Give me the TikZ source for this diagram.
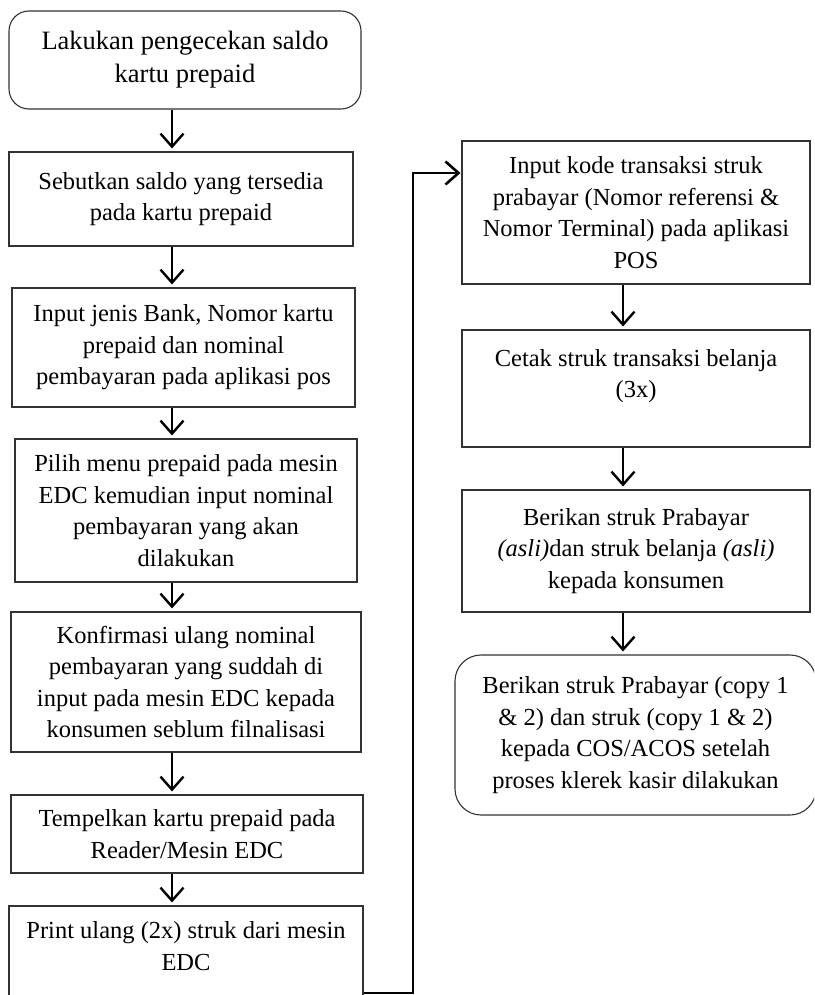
\documentclass[tikz,border=0pt]{standalone}
\usepackage{fontspec}
\setmainfont{Liberation Serif}
\usetikzlibrary{arrows.meta}
\begin{document}
\begin{tikzpicture}[x=1pt,y=-1pt,
  box/.style={draw=black!80, line width=1.1pt, rectangle, inner sep=0pt, align=center, font=\fontsize{24.5}{31.5}\selectfont},
  rbox/.style={box, rounded corners=20pt},
  txt/.style={inner sep=0pt, align=center, font=\fontsize{24.5}{31.5}\selectfont},
  flow/.style={line width=2.4pt, -{Straight Barb[length=13pt,width=23pt]}, shorten >=3pt},
  link/.style={line width=2.6pt, -{Straight Barb[length=13pt,width=23pt]}, shorten >=1pt},
  ]
\clip (0,0) rectangle (814,995);
\coordinate (axL) at (172,0);
\coordinate (axR) at (623,0);
% left column
\node[rbox, minimum width=352pt, minimum height=98pt, font=\fontsize{26.5}{33}\selectfont] (b1) at (185,60) {Lakukan pengecekan saldo\\kartu prepaid};
\node[box, minimum width=344pt, minimum height=94pt] (b2) at (181,199) {Sebutkan saldo yang tersedia\\pada kartu prepaid};
\node[box, minimum width=343pt, minimum height=119pt] (b3) at (183.5,347.5) {Input jenis Bank, Nomor kartu\\prepaid dan nominal\\pembayaran pada aplikasi pos};
\node[box, minimum width=342pt, minimum height=143pt] (b4) at (186,510.5) {Pilih menu prepaid pada mesin\\EDC kemudian input nominal\\pembayaran yang akan\\dilakukan};
\node[box, minimum width=350pt, minimum height=140pt] (b5) at (186,682) {Konfirmasi ulang nominal\\pembayaran yang suddah di\\input pada mesin EDC kepada\\konsumen seblum filnalisasi};
\node[box, minimum width=352pt, minimum height=78pt] (b6) at (187,834) {Tempelkan kartu prepaid pada\\Reader/Mesin EDC};
\node[box, minimum width=354pt, minimum height=96pt] (b7) at (186,954) {};
\node[txt] (t7) at (186,946) {Print ulang (2x) struk dari mesin\\EDC};
% right column
\node[box, minimum width=348pt, minimum height=143pt] (b8) at (636,212.5) {Input kode transaksi struk\\prabayar (Nomor referensi \&\\Nomor Terminal) pada aplikasi\\POS};
\node[box, minimum width=348pt, minimum height=117pt] (b9) at (636,388.5) {};
\node[txt] (t9) at (636,376) {Cetak struk transaksi belanja\\(3x)};
\node[box, minimum width=348pt, minimum height=122pt] (b10) at (636,551) {Berikan struk Prabayar\\\textit{(asli)}dan struk belanja \textit{(asli)}\\kepada konsumen};
\node[box, rounded corners=26pt, minimum width=361pt, minimum height=160pt] (b11) at (635.5,735) {Berikan struk Prabayar (copy 1\\\& 2) dan struk (copy 1 \& 2)\\kepada COS/ACOS setelah\\proses klerek kasir dilakukan};
% arrows
\draw[flow] (b1.south -| axL) -- (b2.north -| axL);
\draw[flow] (b2.south -| axL) -- (b3.north -| axL);
\draw[flow] (b3.south -| axL) -- (b4.north -| axL);
\draw[flow] (b4.south -| axL) -- (b5.north -| axL);
\draw[flow] (b5.south -| axL) -- (b6.north -| axL);
\draw[flow] (b6.south -| axL) -- (b7.north -| axL);
\draw[flow] (b8.south -| axR) -- (b9.north -| axR);
\draw[flow] (b9.south -| axR) -- (b10.north -| axR);
\draw[flow] (b10.south -| axR) -- (b11.north -| axR);
% connector
\coordinate (c1) at (413,993);
\coordinate (c2) at (413,173);
\draw[link] (b7.east |- c1) -- (c1) -- (c2) -- (b8.west |- c2);
\end{tikzpicture}
\end{document}
